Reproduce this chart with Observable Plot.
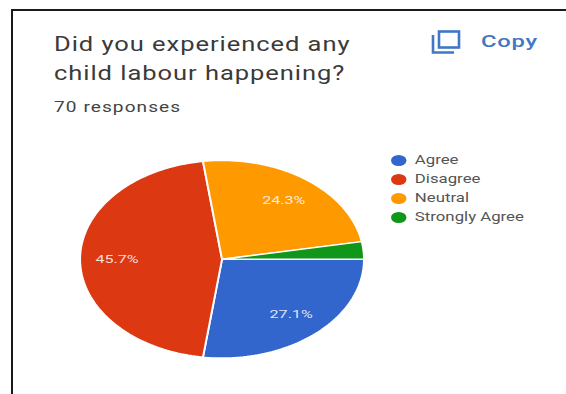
<!DOCTYPE html>
<html>
<head>
<meta charset="utf-8">
<script src="https://cdn.jsdelivr.net/npm/d3@7"></script>
<script src="https://cdn.jsdelivr.net/npm/@observablehq/plot@0.6"></script>
<style>
  html, body { margin: 0; padding: 0; background: #fff; }
  body { width: 566px; height: 394px; position: relative; overflow: hidden; font-family: Roboto, sans-serif; }
  #frame { position: absolute; left: 11px; top: 9px; width: 600px; height: 420px; border: 2px solid #1a1a1a; box-sizing: border-box; }
  #title, #subtitle, #copy { position: absolute; transform-origin: left top; white-space: nowrap; }
  #title { left: 54px; top: 30px; font-size: 20px; line-height: 29px; color: #3a3a3a; letter-spacing: 0.75px; transform: scaleX(1.275); }
  #subtitle { left: 54px; top: 98px; font-size: 14px; line-height: 18px; color: #444; letter-spacing: 0.8px; transform: scaleX(1.36); }
  #copy { left: 481px; top: 31px; font-size: 17px; line-height: 20px; font-weight: 500; color: #3f78c4; letter-spacing: 0.5px; transform: scaleX(1.4); }
  #copyIcon { position: absolute; left: 430px; top: 29px; }
  #pie, #legend { position: absolute; transform-origin: left top; transform: scaleX(1.4); }
  #pie { left: 70px; top: 150px; }
  #legend { left: 380px; top: 150px; }
</style>
</head>
<body>
<div id="frame"></div>
<div id="title">Did you experienced any<br>child labour happening?</div>
<div id="subtitle">70 responses</div>
<svg id="copyIcon" width="32" height="26" viewBox="0 0 32 26" fill="none" stroke="#3f78c4" stroke-width="2.6">
  <rect x="9" y="2.5" width="20" height="16" />
  <path d="M3 6 V23.5 H24" />
</svg>
<div id="copy">Copy</div>
<div id="pie"></div>
<div id="legend"></div>
<script>
const categories = ["Agree", "Disagree", "Neutral", "Strongly Agree"];
const responses = [19, 32, 17, 2];
const percentLabels = ["27.1%", "45.7%", "24.3%", ""];
const colors = ["#3366cc", "#dc3912", "#ff9900", "#109618"];

const total = d3.sum(responses);
const color = { domain: categories, range: colors };

// Outline of each slice, clockwise from three o'clock, in unit-circle space.
const outlines = [];
const labels = [];
let share = 0;
categories.forEach((category, i) => {
  const from = share;
  const to = share + responses[i] / total;
  outlines.push({ category, x: 0, y: 0 });
  const steps = Math.max(4, Math.ceil((to - from) * 240));
  for (let s = 0; s <= steps; s++) {
    const a = 2 * Math.PI * (from + (to - from) * s / steps);
    outlines.push({ category, x: Math.cos(a), y: Math.sin(a) });
  }
  outlines.push({ category, x: 0, y: 0 });
  const mid = 2 * Math.PI * (from + to) / 2;
  labels.push({ text: percentLabels[i], x: 0.74 * Math.cos(mid), y: 0.74 * Math.sin(mid) });
  share = to;
});

const pie = Plot.plot({
  width: 215,
  height: 230,
  margin: 0,
  x: { domain: [-1, 1], range: [6.7, 209.5], axis: null },
  y: { domain: [-1, 1], range: [10, 207.5], axis: null },
  color,
  style: { background: "transparent" },
  marks: [
    Plot.line(outlines, {
      x: "x", y: "y", z: "category", fill: "category",
      stroke: "#fff", strokeWidth: 1.4, strokeLinejoin: "round"
    }),
    Plot.text(labels, {
      x: "x", y: "y", text: "text", fill: "#fff",
      fontSize: 11.5, fontFamily: "Roboto, sans-serif", fillOpacity: 0.85
    })
  ]
});
document.getElementById("pie").append(pie);

// Legend: one dot and one name per category on a shared point scale.
const legend = Plot.plot({
  width: 125,
  height: 80,
  margin: 0,
  x: { domain: [0, 1], range: [0, 125], axis: null },
  y: { domain: categories, type: "point", padding: 0, range: [9.5, 66.5], axis: null },
  color,
  style: { background: "transparent" },
  marks: [
    Plot.dot(categories, { x: () => 0.103, y: d => d, fill: d => d, r: 5.5 }),
    Plot.text(categories, {
      x: () => 0.195, y: d => d, text: d => d, textAnchor: "start",
      fill: "#555", fontSize: 12, fontFamily: "Roboto, sans-serif"
    })
  ]
});
document.getElementById("legend").append(legend);
</script>
</body>
</html>
